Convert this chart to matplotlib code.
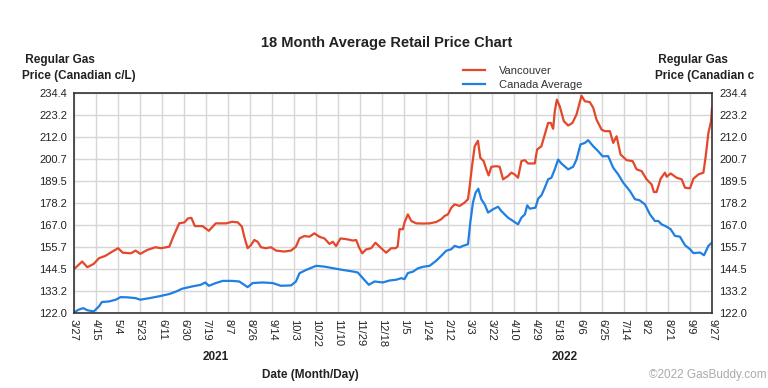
import matplotlib.pyplot as plt
import numpy as np
from matplotlib.transforms import blended_transform_factory

plt.rcParams["font.family"] = ["Liberation Sans", "DejaVu Sans"]

# days counted from 3/27/2021
VAN_DAYS = [0, 7, 11.5, 17, 21.5, 27, 33, 38, 42, 49, 53, 57, 63, 70, 75, 82, 86, 90.5, 95, 98, 101,
            104, 110.6, 116, 122, 131, 136, 141, 144.5, 146.5, 149.4, 152.3, 155.1, 158, 160.9, 165.2,
            169.5, 173.8, 181, 186.8, 191, 194, 198, 202.6, 206.9, 211, 215.5, 219.8, 222.7, 225.5,
            229.3, 235.6, 240, 242.8, 245, 248, 251.4, 255.7, 259.4, 262.9, 268.6, 273, 276.7, 278.5,
            280.1, 283, 284.4, 287.3, 290.2, 294.5, 300.2, 306, 311.7, 316, 318.9, 321.8, 324.7, 327.5,
            331.8, 336.1, 339, 340.5, 342.5, 344.8, 347.6, 349.6, 352.5, 354.8, 356.8, 359.1, 363.4,
            366.3, 369.2, 373.5, 376.4, 379.2, 382.1, 385, 387.9, 390.7, 396.5, 398.5, 402.2, 405.1,
            408, 410.3, 412.3, 413.7, 415.5, 418, 421.5, 425.2, 428.9, 432.4, 436.7, 439.6, 443.9,
            446.8, 449.6, 454, 456.8, 461.1, 464, 466.9, 470.3, 475.5, 480.7, 484.1, 488.4, 492.7,
            497, 499, 501.3, 504.8, 508.5, 510, 513.4, 518.6, 522.9, 525.8, 530.1, 533, 537.3, 541.6,
            543.6, 545.9, 548.2, 549]
VAN_PRICE = [144.4, 148.3, 145.4, 147.1, 150, 151.2, 153.4, 155.1, 152.8, 152.5, 153.9, 152.2, 154.2,
             155.6, 155.1, 155.9, 161.8, 167.8, 168.3, 170.3, 170.6, 166.4, 166.4, 164, 167.8, 167.8,
             168.6, 168.3, 166.1, 161, 155.1, 156.7, 159.3, 158.4, 155.6, 155.1, 155.6, 153.9, 153.4,
             153.9, 155.9, 160.1, 161.3, 161, 162.7, 161, 160.1, 157.3, 158.4, 156.2, 160.1, 159.6, 159,
             159.3, 155.9, 152.5, 154.5, 155.1, 157.9, 155.9, 152.8, 155.1, 155.1, 156, 164.8, 164.8,
             168.2, 172.4, 169, 167.8, 167.7, 167.8, 168.5, 169.9, 171.6, 172.4, 175.8, 177.5, 176.7,
             178.4, 180.1, 186.9, 197, 207.2, 210, 201.3, 199.6, 195.4, 192.3, 196.7, 197, 196.7, 190.3,
             192, 193.7, 192.8, 191.1, 199.6, 200.1, 198.4, 198.4, 205.5, 207.2, 213.2, 219.1, 219.1,
             216.1, 225, 231, 227.6, 220, 217.8, 219.1, 223.4, 233, 230.2, 229.7, 226.8, 220.8, 215.7,
             214.9, 214.9, 208.9, 212.3, 203, 200.1, 199.6, 195.4, 194.5, 190.3, 187.7, 183.8, 183.8,
             190.6, 193.7, 191.6, 193.3, 191.1, 190.3, 186, 185.7, 190.6, 192.8, 193.7, 202.1, 214, 220,
             226.8]

CAN_DAYS = [0, 4, 8, 11.5, 17, 21.5, 24, 30, 36, 40, 46, 53, 57, 65, 73, 82, 88, 93, 102, 109, 113,
            116, 122, 128, 136, 142.2, 146.5, 149.4, 153.7, 162.3, 171, 178, 186.8, 191, 194, 199.7,
            208.3, 215.5, 222.7, 231.3, 240, 244.2, 248.5, 253.7, 258.6, 265.8, 271.5, 277.3, 281.6,
            284.4, 287.3, 291.6, 295.9, 300.2, 306, 311.7, 316, 320.3, 324.7, 327.5, 331.8, 334.7, 339,
            341, 343.3, 345.6, 347.9, 350.5, 353.4, 356.3, 360.6, 364.9, 367.7, 373.5, 377.8, 382.1,
            385, 388, 390, 392.2, 397.1, 399.4, 402.2, 405.1, 408, 410.8, 413.7, 416.6, 419.4, 425.2,
            429.5, 432.4, 435.8, 439.6, 442.4, 446.8, 451, 454.8, 459.7, 464, 468.3, 472.6, 478.4,
            482.7, 486.4, 491.3, 495.6, 499.9, 502.8, 505.6, 510, 513.4, 517.1, 521.4, 525.8, 530.1,
            533, 538.7, 542.1, 545.9, 549]
CAN_PRICE = [122.3, 123.7, 124.5, 123.4, 122.8, 125.4, 127.6, 127.9, 128.8, 130.1, 130, 129.6, 128.8,
             129.6, 130.5, 131.7, 133, 134.4, 135.6, 136.4, 137.6, 135.9, 137.3, 138.4, 138.4, 138.1,
             136.4, 135.2, 137.3, 137.6, 137.3, 135.9, 136.1, 138.1, 142.3, 144, 146.1, 145.7, 144.9,
             144, 143.2, 142.7, 139.8, 136.4, 138.1, 137.6, 138.6, 139, 139.8, 139.3, 142.4, 143.1,
             144.8, 145.6, 146.1, 148.7, 151.2, 153.8, 154.6, 156.3, 155.5, 156.3, 157.1, 168.2, 178.4,
             183.5, 185.5, 180.1, 177.5, 173.3, 175, 176.3, 174.1, 170.7, 169, 167.3, 170.7, 172.4, 177,
             175.3, 175.8, 180.4, 182.1, 186, 190.3, 191.1, 195.4, 200.4, 198.4, 195.4, 196.7, 200.4,
             208.1, 208.9, 210.3, 207.2, 204.7, 202.1, 202.1, 196.2, 192.8, 188.6, 184.3, 180.1, 179.7,
             177.5, 172.4, 169, 169, 167.3, 166.1, 164.8, 161.4, 161, 156.6, 154.6, 152.6, 152.9, 151.5,
             156.3, 158]

X_LABELS = ["3/27", "4/15", "5/4", "5/23", "6/11", "6/30", "7/19", "8/7", "8/26", "9/14", "10/3",
            "10/22", "11/10", "11/29", "12/18", "1/5", "1/24", "2/12", "3/3", "3/22", "4/10", "4/29",
            "5/18", "6/6", "6/25", "7/14", "8/2", "8/21", "9/9", "9/27"]
Y_LABELS = ["122.0", "133.2", "144.5", "155.7", "167.0", "178.2", "189.5", "200.7", "212.0",
            "223.2", "234.4"]
YEARS = ["2021", "2022"]
YEAR_DAYS = [122, 422]

RED = "#e4472a"
BLUE = "#1f7fe3"
INK = "#222222"

fig = plt.figure(figsize=(7.68, 3.88), dpi=100)
ax = fig.add_axes([74 / 768, 75 / 388, 638 / 768, 220 / 388])

ax.plot(VAN_DAYS, VAN_PRICE, color=RED, lw=1.6, label="Vancouver")
ax.plot(CAN_DAYS, CAN_PRICE, color=BLUE, lw=1.6, label="Canada Average")

ax.set_xlim(0, 549)
ax.set_ylim(122.0, 234.4)
ax.set_xticks(np.linspace(0, 549, len(X_LABELS)))
ax.set_xticklabels(X_LABELS, rotation=270, fontsize=8)
ax.set_yticks(np.linspace(122.0, 234.4, len(Y_LABELS)))
ax.set_yticklabels(Y_LABELS, fontsize=8)
ax.tick_params(axis="y", length=0, pad=5, labelright=True, labelcolor=INK)
ax.tick_params(axis="x", length=0, pad=4, labelcolor=INK)
ax.grid(True, color="#d6d6d6", lw=1.0)
ax.set_axisbelow(True)
for side in ax.spines.values():
    side.set_color("#333333")
    side.set_linewidth(1.2)

leg = fig.legend(loc="upper left", bbox_to_anchor=(463 / 768, 1 - 66 / 388), frameon=False,
                 fontsize=8, handlelength=2.0, labelspacing=0.35, handletextpad=1.2,
                 borderpad=0, borderaxespad=0)
for t in leg.get_texts():
    t.set_color("#333333")

fig.text(387 / 768, 1 - 43 / 388, "18 Month Average Retail Price Chart", ha="center", va="center",
         fontsize=10.5, fontweight="bold", color=INK)
fig.text(22 / 768, 1 - 68 / 388, " Regular Gas\nPrice (Canadian c/L)", ha="left", va="center",
         fontsize=8.5, fontweight="bold", color=INK, linespacing=1.35)
fig.text(655 / 768, 1 - 68 / 388, " Regular Gas\nPrice (Canadian c", ha="left", va="center",
         fontsize=8.5, fontweight="bold", color=INK, linespacing=1.35)

trans = blended_transform_factory(ax.transData, fig.transFigure)
for yr, d in zip(YEARS, YEAR_DAYS):
    ax.text(d, 1 - 357 / 388, yr, transform=trans, ha="center", va="center", fontsize=8.5,
            fontweight="bold", color=INK)

fig.text(310 / 768, 1 - 375 / 388, "Date (Month/Day)", ha="center", va="center", fontsize=8.5,
         fontweight="bold", color=INK)
fig.text(708 / 768, 1 - 375 / 388, "\u00a92022 GasBuddy.com", ha="center", va="center",
         fontsize=8.5, color="#aaaaaa")

fig.savefig("out.png", dpi=100, facecolor="white")
